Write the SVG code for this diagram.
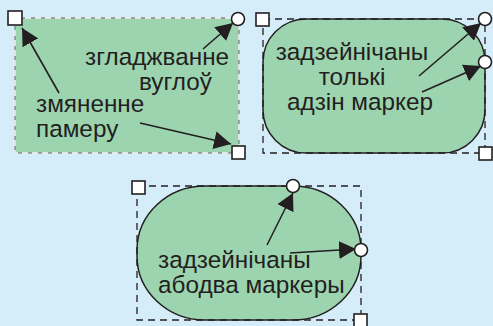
<svg xmlns="http://www.w3.org/2000/svg" width="493" height="326" viewBox="0 0 493 326">
<style>
.bg{fill:#d5edf9}
.shape{fill:#9dd4b0;stroke:#231f20;stroke-width:1.5}
.dash{fill:none;stroke:#231f20;stroke-width:1.3;stroke-dasharray:7 5}
.h{fill:#ffffff;stroke:#231f20;stroke-width:1.6}
.t{font-family:"Liberation Sans",Arial,sans-serif;font-size:24.3px;fill:#231f20}
.c{stroke:#231f20;stroke-width:1.6;fill:none;marker-end:url(#ah)}
</style>
<defs>
<marker id="ah" markerUnits="userSpaceOnUse" markerWidth="18" markerHeight="18" refX="17" refY="9" orient="auto">
<path d="M0,0 L17,9 L0,18 z" fill="#231f20"/>
</marker>
</defs>
<rect class="bg" x="0" y="0" width="493" height="326"/>

<g id="node-rect">
<rect x="15" y="18" width="224" height="135" fill="#9dd4b0" stroke="#7a7c80" stroke-width="1.2"/>
<rect x="15" y="18" width="224" height="135" fill="none" stroke="#ffffff" stroke-width="1.4" stroke-dasharray="6 4"/>
<text class="t"><tspan x="85" y="65">згладжванне</tspan><tspan x="139" y="90">вуглоў</tspan></text>
<text class="t"><tspan x="36" y="112">змяненне</tspan><tspan x="36" y="137">памеру</tspan></text>
</g>

<g id="node-rounded">
<rect class="shape" x="263" y="19" width="222" height="134" rx="43" ry="43"/>
<rect class="dash" x="263" y="19" width="222" height="134"/>
<text class="t" text-anchor="middle"><tspan x="352" y="60">задзейнічаны</tspan><tspan x="352" y="85">толькі</tspan><tspan x="360" y="110">адзін маркер</tspan></text>
</g>

<g id="node-stadium">
<rect class="shape" x="137" y="186" width="224" height="134" rx="68" ry="64"/>
<rect class="dash" x="137" y="186" width="224" height="134"/>
<text class="t"><tspan x="158" y="268">задзейнічаны</tspan><tspan x="158" y="293">абодва маркеры</tspan></text>
</g>

<g id="connectors">
<line class="c" x1="59" y1="93" x2="22" y2="28"/>
<line class="c" x1="140" y1="123" x2="231" y2="144"/>
<line class="c" x1="203" y1="49" x2="233" y2="23"/>
<line class="c" x1="419" y1="76" x2="481" y2="23"/>
<line class="c" x1="422" y1="92" x2="481" y2="66"/>
<line class="c" x1="267" y1="245" x2="293" y2="193"/>
<line class="c" x1="290" y1="253" x2="356" y2="249"/>
</g>

<g id="handles">
<rect class="h" x="8" y="11" width="14" height="14"/>
<circle class="h" cx="238" cy="19" r="6.5"/>
<rect class="h" x="232" y="146" width="13" height="13"/>
<rect class="h" x="256" y="13" width="13" height="13"/>
<circle class="h" cx="485" cy="19" r="6.5"/>
<circle class="h" cx="485" cy="62" r="6.5"/>
<rect class="h" x="479" y="147" width="13" height="13"/>
<rect class="h" x="132" y="181" width="13" height="13"/>
<circle class="h" cx="293" cy="186" r="6.5"/>
<circle class="h" cx="361" cy="250" r="6.5"/>
<rect class="h" x="354" y="314" width="13" height="13"/>
</g>
</svg>
